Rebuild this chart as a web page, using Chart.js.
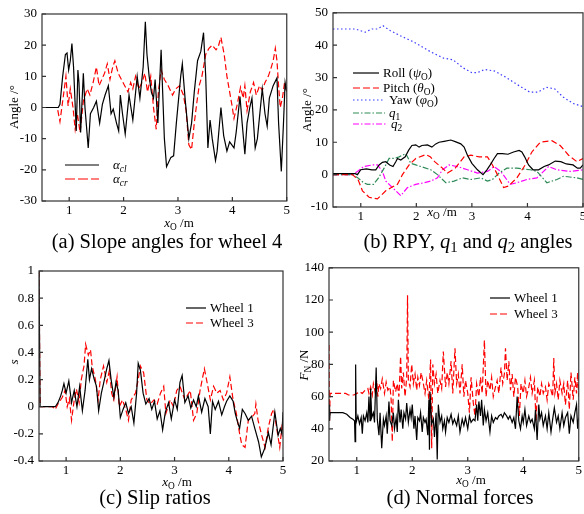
<!DOCTYPE html>
<html>
<head>
<meta charset="utf-8">
<script src="https://cdn.jsdelivr.net/npm/chart.js@4.4.1/dist/chart.umd.min.js"></script>
<style>
  body { margin: 0; background: #fff; }
  #fig { position: relative; width: 584px; height: 514px; overflow: hidden; background: #fff;
         font-family: "Liberation Serif", "Times New Roman", serif; color: #000; }
  canvas { position: absolute; }
  .lbl { position: absolute; font-size: 13px; white-space: nowrap; transform: translate(-50%, -50%); }
  .rot { transform: translate(-50%, -50%) rotate(-90deg); }
  .cap { position: absolute; font-size: 20.5px; white-space: nowrap; transform: translate(-50%, -50%); }
  .leg { position: absolute; font-size: 13px; white-space: nowrap; display: flex; align-items: center; transform: translateY(-50%); }
  .leg svg { margin-right: 4px; }
  sub { font-size: 0.72em; vertical-align: -0.3em; line-height: 0; }
</style>
</head>
<body>
<div id="fig">
  <canvas id="ca" width="292" height="230" style="left:0;top:0"></canvas>
  <canvas id="cb" width="300" height="230" style="left:292px;top:0"></canvas>
  <canvas id="cc" width="292" height="230" style="left:0;top:255px"></canvas>
  <canvas id="cd" width="292" height="230" style="left:292px;top:255px"></canvas>

  <!-- axis titles -->
  <div class="lbl rot" style="left:14px;top:107px">Angle /°</div>
  <div class="lbl" style="left:179px;top:223px"><i>x</i><sub>O</sub> /m</div>
  <div class="lbl rot" style="left:307px;top:110px">Angle /°</div>
  <div class="lbl" style="left:442px;top:212px"><i>x</i><sub>O</sub> /m</div>
  <div class="lbl rot" style="left:14px;top:362px"><i>s</i></div>
  <div class="lbl" style="left:177px;top:482px"><i>x</i><sub>O</sub> /m</div>
  <div class="lbl rot" style="left:304px;top:365px"><i>F</i><sub>N</sub> /N</div>
  <div class="lbl" style="left:471px;top:480px"><i>x</i><sub>O</sub> /m</div>

  <!-- legends -->
  <div class="leg" style="left:65px;top:165px"><svg width="34" height="6"><line x1="0" y1="3" x2="34" y2="3" stroke="#000" stroke-width="1.2"/></svg><span style="margin-left:10px"><i>α</i><sub><i>cl</i></sub></span></div>
  <div class="leg" style="left:65px;top:179px"><svg width="34" height="6"><line x1="0" y1="3" x2="34" y2="3" stroke="#f00" stroke-width="1.2" stroke-dasharray="10 3"/></svg><span style="margin-left:10px"><i>α</i><sub><i>cr</i></sub></span></div>

  <div class="leg" style="left:353px;top:73px"><svg width="26" height="6"><line x1="0" y1="3" x2="26" y2="3" stroke="#000" stroke-width="1.2"/></svg><span>Roll (<i>ψ</i><sub>O</sub>)</span></div>
  <div class="leg" style="left:353px;top:88px"><svg width="26" height="6"><line x1="0" y1="3" x2="26" y2="3" stroke="#f00" stroke-width="1.2" stroke-dasharray="7 3"/></svg><span>Pitch (<i>θ</i><sub>O</sub>)</span></div>
  <div class="leg" style="left:353px;top:100px"><svg width="32" height="6"><line x1="0" y1="3" x2="32" y2="3" stroke="#3a3aff" stroke-width="1.2" stroke-dasharray="1.5 2.5"/></svg><span>Yaw (<i>φ</i><sub>O</sub>)</span></div>
  <div class="leg" style="left:353px;top:113px"><svg width="32" height="6"><line x1="0" y1="3" x2="32" y2="3" stroke="#2e8b57" stroke-width="1.2" stroke-dasharray="6 2 1.5 2"/></svg><span><i>q</i><sub>1</sub></span></div>
  <div class="leg" style="left:353px;top:124px"><svg width="34" height="6"><line x1="0" y1="3" x2="34" y2="3" stroke="#f0f" stroke-width="1.2" stroke-dasharray="6 2 1.5 2"/></svg><span><i>q</i><sub>2</sub></span></div>

  <div class="leg" style="left:186px;top:308px"><svg width="20" height="6"><line x1="0" y1="3" x2="20" y2="3" stroke="#000" stroke-width="1.2"/></svg><span>Wheel 1</span></div>
  <div class="leg" style="left:186px;top:323px"><svg width="20" height="6"><line x1="0" y1="3" x2="20" y2="3" stroke="#f00" stroke-width="1.2" stroke-dasharray="7 3"/></svg><span>Wheel 3</span></div>

  <div class="leg" style="left:490px;top:298px"><svg width="20" height="6"><line x1="0" y1="3" x2="20" y2="3" stroke="#000" stroke-width="1.2"/></svg><span>Wheel 1</span></div>
  <div class="leg" style="left:490px;top:314px"><svg width="20" height="6"><line x1="0" y1="3" x2="20" y2="3" stroke="#f00" stroke-width="1.2" stroke-dasharray="7 3"/></svg><span>Wheel 3</span></div>

  <!-- captions -->
  <div class="cap" style="left:167px;top:241px">(a) Slope angles for wheel 4</div>
  <div class="cap" style="left:468px;top:241px">(b) RPY, <i>q</i><sub>1</sub> and <i>q</i><sub>2</sub> angles</div>
  <div class="cap" style="left:155px;top:497px">(c) Slip ratios</div>
  <div class="cap" style="left:460px;top:497px">(d) Normal forces</div>
</div>

<script>
// ---- tick values ----
const xTicks = [1, 2, 3, 4, 5];
const slopeTicks = [-30, -20, -10, 0, 10, 20, 30];
const rpyTicks = [-10, 0, 10, 20, 30, 40, 50];
const slipTicks = [-0.4, -0.2, 0, 0.2, 0.4, 0.6, 0.8, 1];
const forceTicks = [20, 40, 60, 80, 100, 120, 140];

// ---- (a) slope angles for wheel 4, [x, angle] ----
const alphaCl = [[0.5,0],[0.8,0],[0.83,1],[0.88,10],[0.93,17],[0.96,17.5],[0.99,12],[1.02,15],[1.05,20.5],[1.08,13],[1.13,-7.5],[1.16,12],[1.18,8],[1.21,-8],[1.26,11],[1.29,0],[1.35,-13],[1.39,-2],[1.45,0],[1.5,2],[1.56,-5],[1.61,1],[1.66,4],[1.72,7],[1.77,-2],[1.81,-0.5],[1.87,-5],[1.91,-7.5],[1.94,4],[1.98,-2],[2.03,-8.5],[2.1,4],[2.17,-4],[2.25,10],[2.3,3],[2.36,13],[2.4,27.5],[2.43,17],[2.47,10],[2.51,5],[2.55,3],[2.58,9],[2.63,-5],[2.69,18.5],[2.75,-10],[2.79,-19],[2.87,-16],[2.92,-15.5],[2.97,-5],[3.05,10],[3.08,14],[3.13,3],[3.2,-10],[3.25,-5],[3.3,5],[3.36,15],[3.42,18],[3.47,24],[3.51,10],[3.55,-13],[3.59,-4],[3.63,-10],[3.69,-17],[3.72,-14],[3.79,0],[3.84,-9],[3.9,-14],[3.95,-11],[3.99,-12],[4.03,-13],[4.07,-8],[4.14,3.5],[4.18,-5],[4.23,-15],[4.27,-5],[4.32,0],[4.36,3],[4.42,-13],[4.46,-10],[4.55,6],[4.6,-2],[4.64,-6],[4.68,3],[4.75,7],[4.82,9.5],[4.85,-5],[4.9,-20.5],[4.94,-5],[4.97,8],[5,5]];
const alphaCr = [[0.5,0],[0.78,0],[0.83,-4.5],[0.88,2],[0.94,10],[0.98,0.5],[1.02,6],[1.07,0],[1.11,-7],[1.15,-2],[1.2,-8],[1.26,2],[1.33,6],[1.38,4],[1.44,8],[1.5,13],[1.55,7],[1.6,9],[1.65,11],[1.7,14],[1.75,9],[1.8,13],[1.84,15],[1.9,11],[1.96,9],[2.02,7],[2.08,5],[2.13,8],[2.17,6],[2.22,10],[2.28,6],[2.34,8],[2.39,11],[2.44,5],[2.5,10],[2.55,0],[2.6,-7],[2.64,5],[2.69,12],[2.75,9],[2.82,7],[2.9,4],[2.96,6],[3.03,7],[3.1,4],[3.15,-1],[3.2,-12],[3.25,-13.5],[3.3,-5],[3.35,2],[3.39,7],[3.44,10],[3.51,17],[3.57,19],[3.63,20],[3.7,18.5],[3.74,19.5],[3.79,22.5],[3.85,17],[3.9,10],[3.95,5],[3.99,1],[4.03,-3.5],[4.09,1],[4.15,6.5],[4.2,3],[4.23,7],[4.27,-1],[4.33,5],[4.39,8],[4.44,4],[4.5,7],[4.55,5.5],[4.6,8],[4.66,10],[4.7,12],[4.75,15],[4.79,19],[4.82,15],[4.85,7],[4.88,0],[4.92,3],[4.96,8],[5,5]];

// ---- (b) RPY, q1, q2 angles ----
const roll = [[0.5,0.3],[0.9,0.3],[0.94,0],[1.0,1.5],[1.1,1.8],[1.2,1.5],[1.27,1.5],[1.33,3],[1.39,3.8],[1.45,4],[1.52,3],[1.58,2.5],[1.63,4],[1.66,5],[1.72,4.5],[1.8,5.5],[1.86,7.5],[1.92,9],[1.99,9.2],[2.05,8.5],[2.1,9],[2.2,9.2],[2.28,8.5],[2.35,9.5],[2.41,10],[2.5,10.3],[2.62,10.7],[2.7,10.2],[2.8,9.5],[2.86,8.5],[2.92,6],[3.0,3.5],[3.1,1.5],[3.2,0],[3.27,1.5],[3.33,3],[3.4,5],[3.46,6.5],[3.55,6.5],[3.65,6.3],[3.75,7],[3.85,7.5],[3.9,7],[3.95,5.5],[4.02,3],[4.1,1.5],[4.2,1.5],[4.3,2.5],[4.38,3],[4.5,4.2],[4.6,4],[4.7,3.3],[4.82,3],[4.9,2],[4.95,2],[5,3]];
const pitch = [[0.5,0],[0.85,0],[0.95,-1.5],[1.03,-5],[1.15,-7],[1.3,-7.5],[1.45,-5],[1.55,-4],[1.66,-3],[1.75,0],[1.87,3],[1.99,5],[2.17,6.2],[2.25,5.5],[2.33,4],[2.47,2],[2.56,0.5],[2.7,2],[2.86,5.5],[2.98,6],[3.13,5.5],[3.28,5.5],[3.37,3],[3.46,0],[3.57,-4],[3.66,-3.5],[3.81,-1],[3.96,3],[4.08,7],[4.23,10],[4.44,10.5],[4.59,9],[4.74,6],[4.89,4],[5,5]];
const yaw = [[0.5,45],[0.9,45],[1.08,44],[1.2,45],[1.3,45],[1.4,46],[1.53,44.5],[1.7,43],[1.95,41],[2.25,38],[2.49,36],[2.66,35.5],[2.84,33],[3.0,31.5],[3.1,31.5],[3.23,32.5],[3.41,32],[3.62,30],[3.8,28],[4.04,25.5],[4.19,25.5],[4.34,27],[4.49,26.5],[4.64,24],[4.82,22],[5,21]];
const q1 = [[0.5,0],[0.85,0],[0.95,-1],[1.05,-2.5],[1.12,-3],[1.23,-3],[1.32,-1],[1.42,2],[1.51,5],[1.6,5],[1.69,5.5],[1.81,6.5],[1.9,3.5],[1.99,3],[2.08,2.5],[2.26,1.5],[2.38,0],[2.53,-2.5],[2.68,-2],[2.83,-1],[2.98,-1.5],[3.16,-1],[3.28,-2],[3.37,-1.5],[3.49,0.5],[3.63,2],[3.81,2],[4.05,1.5],[4.17,1],[4.35,-2.5],[4.53,-1.5],[4.65,-0.5],[4.89,-1],[5,-1.5]];
const q2 = [[0.5,0],[0.85,0],[0.94,1],[1.05,2.5],[1.21,3],[1.3,3],[1.39,1],[1.45,-2],[1.54,-3.5],[1.63,-5],[1.72,-6.5],[1.84,-4],[1.99,-3],[2.14,-2.5],[2.26,-2],[2.38,-1],[2.47,1.5],[2.59,3],[2.74,2.5],[2.92,1.5],[3.1,0.5],[3.28,1],[3.4,2.5],[3.52,1],[3.69,-3],[3.81,-2.5],[3.99,-1.5],[4.17,-1],[4.29,1],[4.38,2.5],[4.53,1.5],[4.77,1],[5,1.5]];

// ---- (c) slip ratios ----
const slip1 = [[0.5,1],[0.52,0],[0.8,0],[0.85,0.03],[0.9,0.08],[0.93,0.12],[0.96,0.17],[1.0,0.1],[1.05,0.19],[1.1,0.03],[1.15,0.12],[1.2,0],[1.25,0.15],[1.3,-0.03],[1.35,0.12],[1.4,0.35],[1.43,0.2],[1.47,0.28],[1.52,0.2],[1.56,0.15],[1.6,-0.03],[1.65,0.1],[1.69,0.17],[1.75,0.28],[1.79,0.34],[1.83,0.2],[1.88,0.07],[1.92,0.18],[1.96,0.12],[2.0,-0.08],[2.05,-0.02],[2.1,0.03],[2.15,-0.05],[2.2,0.0],[2.25,-0.12],[2.3,0.1],[2.33,0.32],[2.37,0.27],[2.42,0.1],[2.47,0.02],[2.53,0.06],[2.58,-0.02],[2.63,0.04],[2.68,-0.09],[2.73,-0.03],[2.78,-0.17],[2.83,-0.04],[2.89,0.03],[2.94,-0.09],[3.0,0.05],[3.05,-0.02],[3.1,0.18],[3.14,0.23],[3.19,0.03],[3.25,0.08],[3.3,-0.01],[3.35,0.05],[3.4,0.0],[3.44,0.08],[3.5,-0.04],[3.56,0.06],[3.62,0.0],[3.66,-0.2],[3.7,0.04],[3.75,-0.02],[3.81,0.04],[3.87,-0.06],[3.92,0.0],[3.96,0.04],[4.02,0.08],[4.08,0.04],[4.12,-0.05],[4.16,-0.11],[4.2,-0.16],[4.25,-0.02],[4.3,-0.05],[4.36,-0.1],[4.42,-0.07],[4.48,-0.16],[4.55,-0.26],[4.6,-0.37],[4.66,-0.31],[4.73,-0.19],[4.78,-0.28],[4.85,-0.04],[4.91,-0.21],[4.95,-0.16],[4.98,-0.2],[5,-0.04]];
const slip3 = [[0.5,1],[0.52,0],[0.75,0],[0.8,-0.02],[0.85,0.02],[0.93,0.07],[0.98,0.12],[1.02,0.0],[1.06,0.06],[1.1,-0.1],[1.15,0.05],[1.19,0.13],[1.24,0.03],[1.28,0.2],[1.33,0.3],[1.36,0.46],[1.41,0.38],[1.45,0.42],[1.48,0.3],[1.54,0.2],[1.59,0.05],[1.63,0.2],[1.69,0.3],[1.75,0.18],[1.8,0.27],[1.84,0.1],[1.88,0.05],[1.94,0.22],[1.98,0.0],[2.04,0.05],[2.1,-0.02],[2.15,-0.1],[2.2,0.05],[2.28,0.1],[2.33,0.2],[2.37,0.3],[2.43,0.25],[2.49,0.05],[2.55,0.02],[2.62,0.05],[2.68,0.02],[2.74,0.1],[2.8,0.15],[2.84,-0.05],[2.92,0.05],[2.98,0.0],[3.04,0.12],[3.1,0.15],[3.19,0.05],[3.29,0.12],[3.35,-0.1],[3.41,-0.05],[3.47,0.12],[3.55,0.28],[3.59,0.2],[3.66,0.05],[3.72,0.15],[3.78,0.1],[3.84,0.12],[3.9,0.05],[3.96,0.1],[4.02,0.22],[4.08,0.05],[4.14,-0.05],[4.2,-0.2],[4.24,-0.28],[4.3,-0.3],[4.36,-0.1],[4.42,-0.08],[4.48,-0.05],[4.5,0.02],[4.54,-0.1],[4.6,-0.2],[4.67,-0.3],[4.73,-0.15],[4.79,-0.05],[4.83,-0.02],[4.88,-0.15],[4.94,-0.3],[4.98,-0.15],[5,-0.18]];

// ---- (d) normal forces ----
const force1 = [[0.5,55],[0.51,45],[0.52,50],[0.55,50],[0.65,50],[0.75,50],[0.82,49],[0.88,47],[0.93,46],[0.96,45],[0.97,32],[0.98,80],[0.99,44],[1.02,48],[1.05,43],[1.08,47],[1.1,37],[1.12,48],[1.15,45],[1.18,50],[1.2,44],[1.22,60],[1.24,45],[1.25,65],[1.27,47],[1.3,50],[1.32,44],[1.35,78],[1.37,46],[1.4,36],[1.42,50],[1.45,28],[1.48,46],[1.5,42],[1.53,48],[1.55,37],[1.58,57],[1.6,45],[1.63,42],[1.66,50],[1.68,40],[1.71,47],[1.73,38],[1.75,58],[1.78,44],[1.8,52],[1.83,40],[1.85,50],[1.88,46],[1.9,56],[1.93,44],[1.96,52],[1.98,47],[2.0,55],[2.03,40],[2.05,48],[2.08,33],[2.1,47],[2.13,45],[2.15,50],[2.18,38],[2.2,47],[2.23,44],[2.25,46],[2.28,36],[2.3,58],[2.31,27],[2.32,63],[2.35,43],[2.38,46],[2.4,35],[2.43,50],[2.45,21],[2.47,55],[2.5,44],[2.53,48],[2.55,40],[2.58,45],[2.6,38],[2.63,47],[2.66,44],[2.7,49],[2.73,43],[2.76,46],[2.8,42],[2.83,48],[2.86,38],[2.9,46],[2.93,42],[2.96,47],[3.0,40],[3.03,48],[3.06,44],[3.1,46],[3.13,45],[3.16,55],[3.18,45],[3.2,57],[3.23,48],[3.25,58],[3.28,42],[3.3,52],[3.33,45],[3.36,50],[3.4,38],[3.43,48],[3.46,44],[3.5,47],[3.53,46],[3.56,48],[3.6,49],[3.63,47],[3.66,50],[3.7,48],[3.73,46],[3.76,48],[3.8,44],[3.83,47],[3.86,40],[3.89,60],[3.92,45],[3.95,40],[3.98,48],[4.0,44],[4.03,52],[4.06,42],[4.1,48],[4.13,44],[4.16,46],[4.2,40],[4.22,52],[4.25,33],[4.28,55],[4.3,46],[4.33,50],[4.36,42],[4.4,48],[4.43,40],[4.46,50],[4.5,38],[4.53,46],[4.56,53],[4.6,44],[4.63,48],[4.66,40],[4.7,50],[4.73,42],[4.76,47],[4.8,50],[4.83,37],[4.86,48],[4.9,44],[4.93,50],[4.96,55],[4.98,40],[5,47]];
const force3 = [[0.5,92],[0.505,60],[0.51,45],[0.52,62],[0.6,62],[0.7,62],[0.8,62],[0.85,61],[0.9,61],[0.95,61],[1.0,62],[1.05,63],[1.1,62],[1.15,64],[1.2,65],[1.22,62],[1.25,66],[1.28,61],[1.3,68],[1.33,63],[1.36,70],[1.38,60],[1.4,68],[1.43,65],[1.46,71],[1.5,62],[1.53,69],[1.56,64],[1.6,66],[1.62,58],[1.64,32],[1.66,70],[1.7,63],[1.73,68],[1.76,60],[1.79,85],[1.81,65],[1.84,75],[1.87,60],[1.9,72],[1.915,123],[1.93,70],[1.96,66],[1.99,80],[2.02,68],[2.05,74],[2.08,64],[2.1,72],[2.13,67],[2.16,75],[2.2,68],[2.23,62],[2.26,70],[2.3,58],[2.33,83],[2.35,28],[2.37,80],[2.4,68],[2.43,74],[2.46,62],[2.5,70],[2.53,65],[2.56,88],[2.6,66],[2.63,75],[2.66,68],[2.7,82],[2.73,62],[2.77,90],[2.8,68],[2.83,74],[2.86,62],[2.9,80],[2.93,60],[2.96,70],[3.0,62],[3.03,50],[3.06,72],[3.1,56],[3.13,48],[3.16,68],[3.2,60],[3.23,72],[3.26,62],[3.3,95],[3.33,60],[3.36,70],[3.4,64],[3.43,72],[3.46,60],[3.5,66],[3.53,70],[3.56,62],[3.6,78],[3.63,68],[3.66,74],[3.68,90],[3.71,70],[3.74,82],[3.77,64],[3.8,74],[3.83,60],[3.86,72],[3.9,66],[3.93,48],[3.96,68],[4.0,62],[4.03,70],[4.06,60],[4.1,66],[4.13,72],[4.16,62],[4.2,70],[4.23,45],[4.26,66],[4.3,60],[4.33,68],[4.36,62],[4.4,66],[4.43,58],[4.46,68],[4.5,64],[4.53,60],[4.55,84],[4.57,62],[4.6,68],[4.63,58],[4.66,70],[4.7,62],[4.73,68],[4.76,55],[4.8,70],[4.83,52],[4.86,75],[4.9,58],[4.93,72],[4.96,62],[4.98,75],[5,60]];

const serif = '"Liberation Serif", "Times New Roman", serif';

// box around the plot area plus small inward tick marks
const framePlugin = {
  id: 'frame',
  afterDraw(chart) {
    const { ctx, chartArea: a, scales } = chart;
    ctx.save();
    ctx.strokeStyle = '#333';
    ctx.lineWidth = 1.2;
    ctx.strokeRect(a.left, a.top, a.right - a.left, a.bottom - a.top);
    ctx.beginPath();
    scales.x.ticks.forEach(t => {
      const p = scales.x.getPixelForValue(t.value);
      ctx.moveTo(p, a.bottom); ctx.lineTo(p, a.bottom - 4);
    });
    scales.y.ticks.forEach(t => {
      const p = scales.y.getPixelForValue(t.value);
      ctx.moveTo(a.left, p); ctx.lineTo(a.left + 4, p);
    });
    ctx.stroke();
    ctx.restore();
  }
};

function line(pts, color, dash) {
  return {
    data: pts.map(([x, y]) => ({ x, y })),
    borderColor: color,
    borderWidth: 1.2,
    borderDash: dash || [],
    pointRadius: 0,
    tension: 0,
    fill: false
  };
}

// area = plot rectangle inside the canvas (left, top, right, bottom)
function panel(id, datasets, yMin, yMax, yTicks, area) {
  const cv = document.getElementById(id);
  new Chart(cv, {
    type: 'line',
    data: { datasets },
    plugins: [framePlugin],
    options: {
      responsive: false,
      animation: false,
      devicePixelRatio: 1,
      layout: { padding: { top: area.t, right: cv.width - area.r, left: 0, bottom: 0 } },
      plugins: { legend: { display: false }, tooltip: { enabled: false } },
      scales: {
        x: {
          type: 'linear', min: 0.5, max: 5,
          grid: { display: false, drawTicks: false },
          border: { display: false },
          ticks: { color: '#000', font: { family: serif, size: 13 }, padding: 2, maxRotation: 0 },
          afterBuildTicks: s => { s.ticks = xTicks.map(v => ({ value: v })); },
          afterFit: s => { s.height = cv.height - area.b; }
        },
        y: {
          type: 'linear', min: yMin, max: yMax,
          grid: { display: false, drawTicks: false },
          border: { display: false },
          ticks: { color: '#000', font: { family: serif, size: 13 }, padding: 5,
                   callback: v => String(Math.round(v * 10) / 10) },
          afterBuildTicks: s => { s.ticks = yTicks.map(v => ({ value: v })); },
          afterFit: s => { s.width = area.l; }
        }
      }
    }
  });
}

const dash = [6, 3];
const dashDot = [6, 2, 1.5, 2];

panel('ca', [line(alphaCl, '#000'), line(alphaCr, '#ff0000', dash)],
  -30, 30, slopeTicks, { l: 42, t: 14, r: 288, b: 201 });

panel('cb', [line(roll, '#000'), line(pitch, '#ff0000', dash), line(yaw, '#3a3aff', [1.5, 2.5]),
             line(q1, '#2e8b57', dashDot), line(q2, '#ff00ff', dashDot)],
  -10, 50, rpyTicks, { l: 41, t: 9, r: 291, b: 207 });

panel('cc', [line(slip1, '#000'), line(slip3, '#ff0000', dash)],
  -0.4, 1, slipTicks, { l: 39, t: 16, r: 283, b: 206 });

panel('cd', [line(force1, '#000'), line(force3, '#ff0000', dash)],
  20, 140, forceTicks, { l: 37, t: 12, r: 289, b: 206 });
</script>
</body>
</html>
